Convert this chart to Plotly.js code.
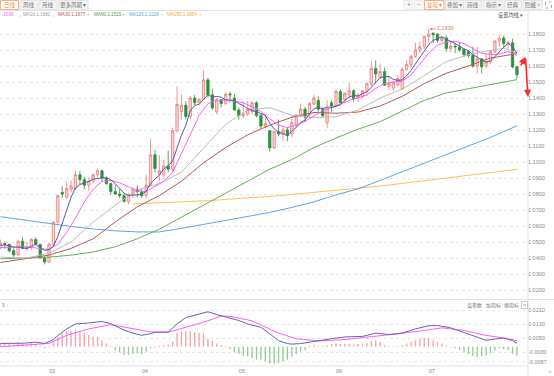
<!DOCTYPE html>
<html><head><meta charset="utf-8">
<script src="https://cdn.plot.ly/plotly-3.0.1.min.js"></script>
<style>html,body{margin:0;padding:0;background:#fff;}#chart{width:554px;height:376px;}</style>
</head><body><div id="chart"></div>
<script>
// ---------- data ----------
const dates = ["2025-02-14","2025-02-17","2025-02-18","2025-02-19","2025-02-20","2025-02-21","2025-02-24","2025-02-25","2025-02-26","2025-02-27","2025-02-28",
"2025-03-03","2025-03-04","2025-03-05","2025-03-06","2025-03-07","2025-03-10","2025-03-11","2025-03-12","2025-03-13","2025-03-14","2025-03-17","2025-03-18","2025-03-19","2025-03-20","2025-03-21","2025-03-24","2025-03-25","2025-03-26","2025-03-27","2025-03-28","2025-03-31",
"2025-04-01","2025-04-02","2025-04-03","2025-04-04","2025-04-07","2025-04-08","2025-04-09","2025-04-10","2025-04-11","2025-04-14","2025-04-15","2025-04-16","2025-04-17","2025-04-18","2025-04-21","2025-04-22","2025-04-23","2025-04-24","2025-04-25","2025-04-28","2025-04-29","2025-04-30",
"2025-05-01","2025-05-02","2025-05-05","2025-05-06","2025-05-07","2025-05-08","2025-05-09","2025-05-12","2025-05-13","2025-05-14","2025-05-15","2025-05-16","2025-05-19","2025-05-20","2025-05-21","2025-05-22","2025-05-23","2025-05-26","2025-05-27","2025-05-28","2025-05-29","2025-05-30",
"2025-06-02","2025-06-03","2025-06-04","2025-06-05","2025-06-06","2025-06-09","2025-06-10","2025-06-11","2025-06-12","2025-06-13","2025-06-16","2025-06-17","2025-06-18","2025-06-19","2025-06-20","2025-06-23","2025-06-24","2025-06-25","2025-06-26","2025-06-27","2025-06-30",
"2025-07-01","2025-07-02","2025-07-03","2025-07-04","2025-07-07","2025-07-08","2025-07-09","2025-07-10","2025-07-11","2025-07-14","2025-07-15","2025-07-16","2025-07-17","2025-07-18","2025-07-21","2025-07-22","2025-07-23","2025-07-24","2025-07-25","2025-07-28","2025-07-29"];

const openP = [1.0465,1.0490,1.0485,1.0445,1.0420,1.0505,1.0460,1.0465,1.0515,1.0485,1.0400,
1.0375,1.0485,1.0625,1.0810,1.0780,1.0830,1.0835,1.0920,1.0890,1.0855,1.0880,1.0920,1.0945,1.0900,1.0865,1.0815,1.0800,1.0790,1.0752,1.0795,1.0830,
1.0815,1.0790,1.0855,1.1045,1.0925,1.0920,1.0975,1.0955,1.1195,1.1315,1.1355,1.1285,1.1400,1.1370,1.1390,1.1513,1.1420,1.1313,1.1390,1.1365,1.1425,1.1400,
1.1325,1.1290,1.1300,1.1315,1.1370,1.1290,1.1225,1.1195,1.1088,1.1190,1.1172,1.1200,1.1175,1.1235,1.1290,1.1330,1.1295,1.1362,1.1385,1.1330,1.1245,1.1370,
1.1350,1.1440,1.1388,1.1420,1.1445,1.1400,1.1410,1.1440,1.1490,1.1585,1.1530,1.1565,1.1472,1.1462,1.1482,1.1455,1.1580,1.1610,1.1660,1.1700,1.1720,
1.1785,1.1805,1.1800,1.1760,1.1775,1.1710,1.1725,1.1720,1.1705,1.1690,1.1665,1.1600,1.1645,1.1600,1.1625,1.1690,1.1755,1.1775,1.1740,1.1745,1.1595];
const highP = [1.0515,1.0505,1.0490,1.0460,1.0510,1.0530,1.0500,1.0525,1.0530,1.0490,1.0410,
1.0495,1.0630,1.0795,1.0850,1.0880,1.0885,1.0947,1.0945,1.0905,1.0905,1.0930,1.0955,1.0955,1.0910,1.0870,1.0860,1.0830,1.0805,1.0805,1.0840,1.0855,
1.0835,1.0920,1.1145,1.1075,1.1045,1.1015,1.1070,1.1215,1.1473,1.1420,1.1380,1.1414,1.1420,1.1395,1.1573,1.1525,1.1455,1.1400,1.1395,1.1435,1.1440,1.1425,
1.1340,1.1380,1.1380,1.1380,1.1380,1.1300,1.1295,1.1200,1.1195,1.1265,1.1230,1.1215,1.1285,1.1300,1.1365,1.1345,1.1375,1.1420,1.1410,1.1345,1.1385,1.1385,
1.1455,1.1455,1.1435,1.1492,1.1455,1.1430,1.1450,1.1495,1.1630,1.1637,1.1615,1.1590,1.1540,1.1505,1.1545,1.1590,1.1640,1.1670,1.1745,1.1755,1.1790,
1.1830,1.1810,1.1805,1.1785,1.1790,1.1750,1.1745,1.1750,1.1710,1.1700,1.1720,1.1720,1.1650,1.1675,1.1700,1.1765,1.1790,1.1790,1.1760,1.1770,1.1600];
const lowP = [1.0455,1.0455,1.0435,1.0400,1.0410,1.0455,1.0445,1.0450,1.0480,1.0395,1.0360,
1.0370,1.0470,1.0605,1.0775,1.0770,1.0810,1.0825,1.0860,1.0830,1.0820,1.0865,1.0905,1.0880,1.0855,1.0795,1.0795,1.0775,1.0745,1.0735,1.0775,1.0780,
1.0775,1.0775,1.0850,1.0935,1.0880,1.0905,1.0935,1.0945,1.1185,1.1265,1.1265,1.1265,1.1355,1.1360,1.1385,1.1405,1.1325,1.1300,1.1340,1.1355,1.1370,1.1320,
1.1265,1.1270,1.1290,1.1300,1.1280,1.1210,1.1210,1.1065,1.1080,1.1160,1.1130,1.1130,1.1155,1.1215,1.1280,1.1250,1.1275,1.1355,1.1310,1.1280,1.1210,1.1315,
1.1345,1.1360,1.1365,1.1400,1.1375,1.1375,1.1400,1.1410,1.1475,1.1490,1.1520,1.1475,1.1450,1.1445,1.1475,1.1450,1.1570,1.1590,1.1650,1.1680,1.1705,
1.1750,1.1745,1.1745,1.1750,1.1690,1.1685,1.1680,1.1690,1.1655,1.1650,1.1590,1.1555,1.1555,1.1585,1.1610,1.1680,1.1720,1.1715,1.1705,1.1585,1.1520];
const closeP = [1.0490,1.0485,1.0445,1.0420,1.0505,1.0460,1.0465,1.0515,1.0485,1.0400,1.0375,
1.0485,1.0625,1.0790,1.0800,1.0835,1.0850,1.0920,1.0890,1.0855,1.0880,1.0920,1.0945,1.0900,1.0865,1.0815,1.0800,1.0790,1.0755,1.0795,1.0830,1.0815,
1.0790,1.0855,1.1045,1.0960,1.0945,1.0975,1.0955,1.1195,1.1360,1.1355,1.1285,1.1400,1.1370,1.1390,1.1513,1.1420,1.1338,1.1388,1.1365,1.1425,1.1420,1.1325,
1.1290,1.1300,1.1330,1.1370,1.1290,1.1225,1.1240,1.1088,1.1190,1.1175,1.1200,1.1165,1.1245,1.1290,1.1330,1.1280,1.1365,1.1400,1.1330,1.1290,1.1335,1.1350,
1.1440,1.1370,1.1430,1.1445,1.1395,1.1418,1.1445,1.1490,1.1585,1.1550,1.1565,1.1480,1.1490,1.1495,1.1522,1.1580,1.1610,1.1660,1.1700,1.1720,1.1785,
1.1800,1.1795,1.1760,1.1775,1.1710,1.1725,1.1720,1.1700,1.1670,1.1665,1.1600,1.1645,1.1595,1.1625,1.1690,1.1755,1.1775,1.1740,1.1745,1.1595,1.1545];

const ma5 = [1.0478,1.0482,1.0476,1.0468,1.0469,1.0463,1.0459,1.0473,1.0486,1.0465,1.0448,
1.0452,1.0474,1.0535,1.0615,1.0707,1.0780,1.0839,1.0859,1.0870,1.0879,1.0893,1.0898,1.0900,1.0902,1.0889,1.0865,1.0834,1.0805,1.0791,1.0794,1.0797,
1.0797,1.0817,1.0867,1.0893,1.0919,1.0956,1.0976,1.1006,1.1086,1.1168,1.1230,1.1319,1.1354,1.1360,1.1392,1.1419,1.1406,1.1410,1.1405,1.1387,1.1387,1.1385,
1.1365,1.1352,1.1333,1.1323,1.1316,1.1303,1.1291,1.1243,1.1207,1.1184,1.1179,1.1164,1.1195,1.1215,1.1246,1.1262,1.1302,1.1333,1.1341,1.1333,1.1344,1.1341,
1.1349,1.1357,1.1385,1.1407,1.1416,1.1412,1.1427,1.1439,1.1467,1.1498,1.1527,1.1534,1.1534,1.1516,1.1510,1.1513,1.1539,1.1573,1.1614,1.1654,1.1695,
1.1733,1.1760,1.1772,1.1783,1.1768,1.1753,1.1738,1.1726,1.1705,1.1696,1.1671,1.1656,1.1635,1.1626,1.1631,1.1662,1.1688,1.1717,1.1741,1.1722,1.1680];

// sampled moving averages (index counted from 2025-03-03 = 0)
const ma10Idx = [-11,-5,-1,0,2,4,6,8,10,12,14,16,18,20,22,24,26,28,30,32,34,36,38,40,42,44,46,48,50,52,54,56,58,60,62,64,66,68,70,72,74,76,78,80,82,84,86,88,90,92,94,96,98,100,102,104,106];
const ma10Val = [1.0465,1.0470,1.0455,1.0455,1.0485,1.0560,1.0650,1.0750,1.0830,1.0880,1.0885,1.0870,1.0845,1.0820,1.0815,1.0850,1.0880,1.0935,1.1050,1.1175,1.1290,1.1365,1.1385,1.1390,1.1380,1.1370,1.1345,1.1315,1.1270,1.1230,1.1215,1.1230,1.1255,1.1290,1.1320,1.1340,1.1365,1.1385,1.1400,1.1420,1.1460,1.1490,1.1500,1.1505,1.1545,1.1615,1.1680,1.1730,1.1750,1.1755,1.1740,1.1710,1.1680,1.1672,1.1675,1.1690,1.1666];
const ma20Idx = [-11,-5,0,5,10,15,20,25,30,35,40,45,50,55,60,65,70,75,80,85,90,95,100,103,106];
const ma20Val = [1.0405,1.0400,1.0430,1.0500,1.0625,1.0730,1.0825,1.0865,1.0937,1.1085,1.1235,1.1325,1.1340,1.1292,1.1278,1.1282,1.1325,1.1400,1.1455,1.1540,1.1628,1.1670,1.1698,1.1710,1.1682];
const maLongIdx = [-11,-5,0,5,10,15,20,25,30,35,40,45,50,55,60,65,70,75,80,85,90,95,100,106];
const ma30Val = [1.0372,1.0395,1.0418,1.0460,1.0520,1.0625,1.0720,1.0790,1.0880,1.0995,1.1090,1.1170,1.1230,1.1280,1.1310,1.1305,1.1312,1.1350,1.1410,1.1490,1.1555,1.1600,1.1650,1.1677];
const ma60Val = [1.0395,1.0400,1.0405,1.0418,1.0438,1.0470,1.0520,1.0580,1.0655,1.0725,1.0800,1.0880,1.0955,1.1015,1.1090,1.1150,1.1205,1.1252,1.1318,1.1385,1.1432,1.1458,1.1480,1.1515];
const ma120Val = [1.0658,1.0635,1.0612,1.0597,1.0582,1.0570,1.0563,1.0563,1.0585,1.0610,1.0635,1.0660,1.0685,1.0716,1.0751,1.0794,1.0832,1.0885,1.0938,1.0992,1.1045,1.1100,1.1154,1.1226];
const ma250Idx = [19,20,25,29,35,40,45,50,55,60,65,70,75,80,85,90,95,100,106];
const ma250Val = [1.0738,1.0739,1.0744,1.0749,1.0757,1.0766,1.0774,1.0785,1.0797,1.0810,1.0822,1.0835,1.0850,1.0866,1.0883,1.0900,1.0918,1.0935,1.0954];

// MACD
const macdBar = [0.0020,0.0020,0.0015,0.0010,0.0025,0.0020,0.0015,0.0020,0.0015,0.0005,-0.0008,
0.0005,0.0030,0.0055,0.0080,0.0092,0.0093,0.0096,0.0089,0.0078,0.0065,0.0059,0.0056,0.0037,0.0019,0.0004,-0.0022,-0.0033,-0.0046,-0.0046,-0.0041,-0.0037,
-0.0041,-0.0028,-0.0009,-0.0004,0.0006,0.0009,0.0012,0.0028,0.0078,0.0089,0.0089,0.0089,0.0083,0.0080,0.0078,0.0046,0.0037,0.0019,0.0008,0.0005,-0.0015,-0.0028,
-0.0041,-0.0052,-0.0056,-0.0065,-0.0074,-0.0074,-0.0083,-0.0096,-0.0096,-0.0093,-0.0083,-0.0074,-0.0056,-0.0041,-0.0028,-0.0019,0.0006,0.0009,0.0004,0.0006,0.0009,0.0015,
0.0019,0.0015,0.0019,0.0017,0.0012,0.0015,0.0019,0.0022,0.0033,0.0037,0.0028,0.0009,0.0004,0.0002,0.0004,0.0009,0.0019,0.0028,0.0037,0.0046,0.0050,
0.0048,0.0037,0.0028,0.0019,0.0009,0.0002,-0.0009,-0.0019,-0.0028,-0.0041,-0.0052,-0.0059,-0.0056,-0.0052,-0.0037,-0.0022,-0.0009,-0.0015,-0.0019,-0.0041,-0.0052];
const difIdx = [-11,-6,-3,-1,1,2,4,6,9,12,14,17,19,21,23,24,27,29,31,34,36,38,41,43,45,48,50,52,54,55,57,58,61,64,67,71,74,77,80,83,86,88,91,94,97,99,101,103,105,106];
const difVal = [0.0019,0.0020,0.0026,0.0019,0.0040,0.0065,0.0102,0.0130,0.0136,0.0144,0.0132,0.0095,0.0078,0.0065,0.0075,0.0083,0.0084,0.0130,0.0167,0.0189,0.0200,0.0184,0.0165,0.0150,0.0130,0.0111,0.0074,0.0035,0.0018,0.0015,0.0018,0.0022,0.0037,0.0046,0.0056,0.0059,0.0078,0.0070,0.0078,0.0102,0.0120,0.0121,0.0108,0.0083,0.0056,0.0037,0.0044,0.0050,0.0035,0.0019];
const deaIdx = [-11,-5,-1,0,4,9,14,19,23,27,31,36,39,41,46,52,56,61,67,73,79,85,89,94,99,103,106];
const deaVal = [0.0000,0.0009,0.0017,0.0019,0.0065,0.0102,0.0126,0.0102,0.0085,0.0083,0.0111,0.0148,0.0176,0.0174,0.0148,0.0078,0.0046,0.0033,0.0041,0.0056,0.0074,0.0093,0.0108,0.0093,0.0065,0.0050,0.0035];

// ticks and labels
const priceTicks = [1.02,1.03,1.04,1.05,1.06,1.07,1.08,1.09,1.10,1.11,1.12,1.13,1.14,1.15,1.16,1.17,1.18];
const macdTicks = [0.021,0.013,0.005,-0.003,-0.0087];
const macdTickText = ["0.0210","0.0130","0.0050","-0.0030","-0.0087"];
const monthTickDates = ["2025-03-03","2025-04-01","2025-05-01","2025-06-02","2025-07-01"];
const monthTickText = ["03","04","05","06","07"];
const legendNames = ["MA20:1.1682","MA30:1.1677","MA60:1.1515","MA120:1.1226","MA250:1.0954"];
const legendArrows = ["↓","↑","↑","↑","↑"];
const peakLabel = "1.1830";

// ---------- drawing ----------
const D = i => dates[i + 11];
const W = 554, H = 376, ML = 0, MR = 27, MT = 24, MB = 10;
const PW = W - ML - MR, PH = H - MT - MB;
const px = x => (x - ML) / PW;
const py = y => (H - MB - y) / PH;
const FONT = "Liberation Sans, Arial, sans-serif";
const CJK = "Noto Sans CJK SC, sans-serif";

const C = {ma5:'#5a5aaa', ma10:'#ff5cff', ma20:'#bdbdbd', ma30:'#b35a5a', ma60:'#66b055', ma120:'#5aa6e6', ma250:'#ffbf55'};
const line = (x, y, color, xa, ya) => ({type:'scatter', mode:'lines', x, y, xaxis:xa, yaxis:ya,
  line:{color, width:1}, hoverinfo:'skip', showlegend:false});

const traces = [
  {type:'candlestick', x:dates, open:openP, high:highP, low:lowP, close:closeP, xaxis:'x', yaxis:'y',
   increasing:{line:{color:'#ee7a7a', width:0.8}, fillcolor:'#fcd6d6'},
   decreasing:{line:{color:'#2f8f3a', width:0.8}, fillcolor:'#2f8f3a'},
   whiskerwidth:0, hoverinfo:'skip', showlegend:false},
  line(ma250Idx.map(D), ma250Val, C.ma250, 'x', 'y'),
  line(maLongIdx.map(D), ma120Val, C.ma120, 'x', 'y'),
  line(maLongIdx.map(D), ma60Val, C.ma60, 'x', 'y'),
  line(maLongIdx.map(D), ma30Val, C.ma30, 'x', 'y'),
  line(ma20Idx.map(D), ma20Val, C.ma20, 'x', 'y'),
  line(ma10Idx.map(D), ma10Val, C.ma10, 'x', 'y'),
  line(dates, ma5, C.ma5, 'x', 'y'),
  {type:'bar', x:dates, y:macdBar, xaxis:'x2', yaxis:'y2', width:0.3,
   marker:{color:macdBar.map(v => v >= 0 ? '#f2a3a3' : '#8fcc8f'), line:{width:0}},
   hoverinfo:'skip', showlegend:false},
  line(deaIdx.map(D), deaVal, '#ff5cff', 'x2', 'y2'),
  line(difIdx.map(D), difVal, '#6464b4', 'x2', 'y2')
];

const xRange = [-0.1, 119.27];
const tickFont = {family:FONT, size:5.5, color:'#8a8a8a'};

const shapes = [];
const annotations = [];
const hline = (y, x0, x1, color) => shapes.push({type:'line', xref:'paper', yref:'paper',
  x0:px(x0), x1:px(x1), y0:py(y), y1:py(y), line:{color, width:1}});
const vline = (x, y0, y1, color) => shapes.push({type:'line', xref:'paper', yref:'paper',
  x0:px(x), x1:px(x), y0:py(y0), y1:py(y1), line:{color, width:1}});
const rect = (x0, y0, x1, y1, border, fill) => shapes.push({type:'rect', xref:'paper', yref:'paper',
  x0:px(x0), x1:px(x1), y0:py(y1), y1:py(y0), line:{color:border, width:0.8}, fillcolor:fill});
const text = (t, x, y, color, size, anchor, fam) => annotations.push({text:t, xref:'paper', yref:'paper',
  x:px(x), y:py(y), xanchor:anchor || 'left', yanchor:'middle', showarrow:false,
  font:{family:fam || FONT, size:size || 5, color}});

// frame lines
hline(10.5, 0, 554, '#e3e3e3');
hline(299.5, 0, 554, '#e3e3e3');
hline(366, 0, 528, '#e3e3e3');
vline(528, 11, 376, '#e3e3e3');

// toolbar left
rect(0.5, 0.5, 18.5, 9.5, '#f29a5c', '#ffffff'); text('日线', 9.5, 5, '#f0883e', 5.5, 'center', CJK);
rect(20, 0.5, 37.5, 9.5, '#dedede', '#f3f3f3'); text('周线', 28.7, 5, '#777', 5.5, 'center', CJK);
rect(39, 0.5, 57, 9.5, '#dedede', '#f3f3f3'); text('月线', 48, 5, '#777', 5.5, 'center', CJK);
rect(58.5, 0.5, 88, 9.5, '#dedede', '#f3f3f3'); text('更多周期 ▾', 73, 5, '#777', 5.5, 'center', CJK);
// toolbar right
rect(404, 0.5, 413, 9.5, '#e6e6e6', '#f7f7f7'); text('+', 408.5, 5, '#888', 6.5, 'center');
rect(414.5, 0.5, 423, 9.5, '#e6e6e6', '#f7f7f7'); text('−', 418.8, 5, '#888', 6.5, 'center');
rect(424.5, 0.5, 444, 9.5, '#f29a5c', '#ffffff'); text('复权 ▾', 434.2, 5, '#f0883e', 5.5, 'center', CJK);
rect(445.5, 0.5, 463.5, 9.5, '#dedede', '#f3f3f3'); text('叠加 ▾', 454.5, 5, '#777', 5.5, 'center', CJK);
rect(465, 0.5, 481.5, 9.5, '#dedede', '#f3f3f3'); text('画线', 473.2, 5, '#777', 5.5, 'center', CJK);
rect(483, 0.5, 503, 9.5, '#dedede', '#f3f3f3'); text('指示 ▾', 493, 5, '#777', 5.5, 'center', CJK);
rect(504.5, 0.5, 521.5, 9.5, '#dedede', '#f3f3f3'); text('经典', 513, 5, '#777', 5.5, 'center', CJK);
rect(523, 0.5, 542.5, 9.5, '#dedede', '#f3f3f3'); text('隐藏 »', 532.7, 5, '#777', 5.5, 'center', CJK);
shapes.push({type:'rect', xref:'paper', yref:'paper', x0:px(545.5), x1:px(551.5), y0:py(8), y1:py(2),
  line:{color:'#999', width:0.8, dash:'dot'}, fillcolor:'rgba(0,0,0,0)'});

// MA legend row
text('.1666', 0, 15, C.ma10, 4.6); text('↓', 16.5, 15, C.ma10, 5);
const legendX = [21, 56, 91.5, 126.5, 164.5];
const legendArrowX = [49.5, 84.5, 120.5, 158.5, 196.5];
const legendColors = ['#a0a0a0', C.ma30, '#4f9e42', C.ma120, '#f5a83a'];
legendNames.forEach((n, k) => {
  text(n, legendX[k], 15, legendColors[k], 4.6);
  text(legendArrows[k], legendArrowX[k], 15, legendColors[k], 5);
});
text('设置均线 ▾', 525, 15.5, '#555', 5.2, 'right', CJK);

// MACD header
text('9 ↓', 0, 305, '#888', 5);
text('设参数', 465, 305, '#777', 5, 'left', CJK);
text('加指标', 484, 305, '#777', 5, 'left', CJK);
text('换指标', 502, 305, '#777', 5, 'left', CJK);
rect(521.5, 301.5, 527.5, 308.5, '#bbbbbb', '#ffffff'); text('×', 524.5, 305, '#999', 5.5, 'center');
text('»', 549.5, 370.5, '#aaa', 6, 'center');

// peak label
annotations.push({text:peakLabel, x:D(86), y:1.1830, xref:'x', yref:'y', showarrow:true,
  ax:17, ay:-1, arrowhead:2, arrowsize:0.6, arrowwidth:0.8, arrowcolor:'#f07a45', standoff:1,
  font:{family:FONT, size:5.5, color:'#f07a45'}});
// red hand-drawn arrows
annotations.push({text:'', xref:'paper', yref:'paper', x:px(525.5), y:py(57), ax:-5.5, ay:10,
  showarrow:true, arrowhead:2, arrowsize:0.9, arrowwidth:1.6, arrowcolor:'#ff2b2b'});
annotations.push({text:'', xref:'paper', yref:'paper', x:px(528), y:py(97), ax:-2.5, ay:-40,
  showarrow:true, arrowhead:2, arrowsize:0.9, arrowwidth:1.6, arrowcolor:'#ff2b2b'});

const layout = {
  width:W, height:H, margin:{l:ML, r:MR, t:MT, b:MB},
  paper_bgcolor:'#ffffff', plot_bgcolor:'#ffffff', showlegend:false, boxgap:0.25,
  xaxis:{type:'category', categoryorder:'array', categoryarray:dates, range:xRange, anchor:'y',
    showticklabels:false, showgrid:false, zeroline:false, showline:false, ticks:'',
    rangeslider:{visible:false}, fixedrange:true},
  xaxis2:{type:'category', categoryorder:'array', categoryarray:dates, range:xRange, anchor:'y2', matches:'x',
    tickvals:monthTickDates, ticktext:monthTickText, ticks:'', ticklabelposition:'outside right',
    tickfont:tickFont, showgrid:false, zeroline:false, showline:false, fixedrange:true},
  yaxis:{domain:[(366-298)/PH, 1], range:[1.015, 1.18625], side:'right',
    tickvals:priceTicks, ticktext:priceTicks.map(v => v.toFixed(4)), ticks:'', tickfont:tickFont,
    showgrid:true, gridcolor:'#e6e6e6', griddash:'dot', gridwidth:1, zeroline:false, showline:false, fixedrange:true},
  yaxis2:{domain:[0, (366-300)/PH], range:[-0.011, 0.026714], side:'right',
    tickvals:macdTicks, ticktext:macdTickText, ticks:'', tickfont:tickFont,
    showgrid:true, gridcolor:'#e6e6e6', griddash:'dot', gridwidth:1, zeroline:false, showline:false, fixedrange:true},
  shapes, annotations
};

Plotly.newPlot('chart', traces, layout, {staticPlot:true, displayModeBar:false});
</script>
</body></html>
